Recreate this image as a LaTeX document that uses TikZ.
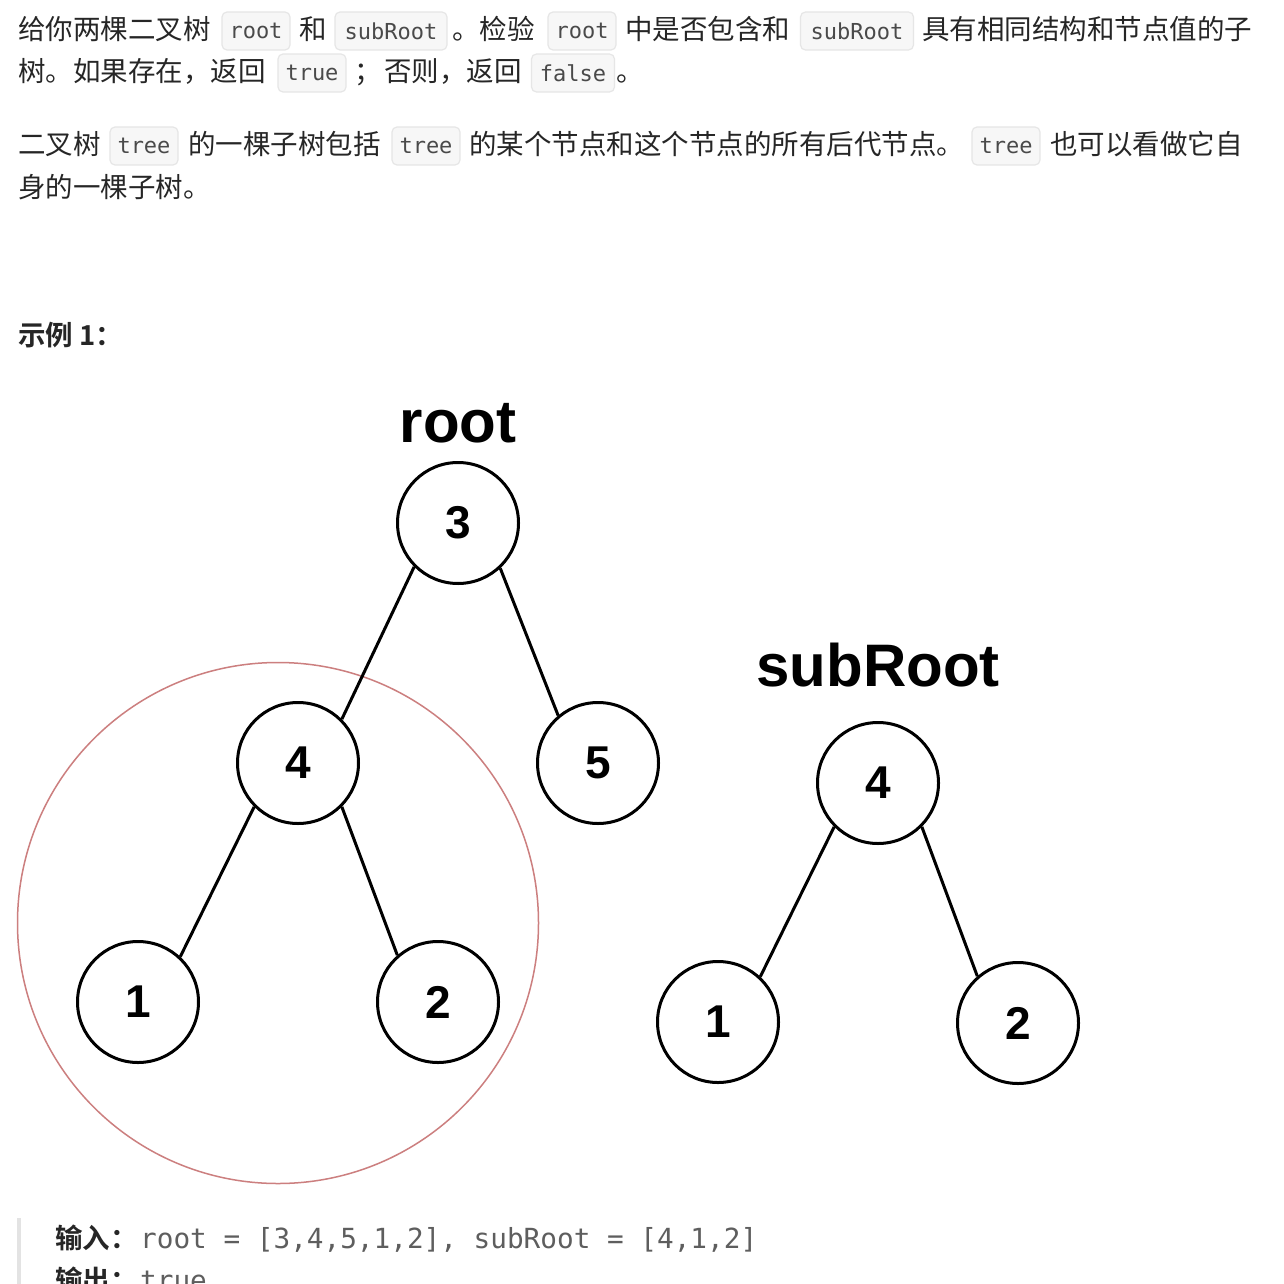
\documentclass[tikz,border=0pt]{standalone}
\usepackage{fontspec}
\setmainfont{Liberation Sans}
\newfontfamily\cjk{Noto Sans CJK SC}
\newfontfamily\cjkb{Noto Sans CJK SC Bold}
\newfontfamily\codefont{DejaVu Sans Mono}
\newfontfamily\figfont{Liberation Sans}
\definecolor{txtc}{HTML}{262626}
\definecolor{codec}{HTML}{4A4A4A}
\definecolor{codebg}{HTML}{F7F7F7}
\definecolor{codebd}{HTML}{E6E6E6}
\definecolor{hlred}{HTML}{CC7F7F}
\definecolor{barc}{HTML}{E3E3E3}
\definecolor{prec}{HTML}{5E5E5E}
\tikzset{
  txt/.style={anchor=base west, inner sep=0pt, text=txtc, font=\cjk\fontsize{27.5}{32}\selectfont},
  btxt/.style={anchor=base west, inner sep=0pt, text=txtc, font=\cjkb\fontsize{27.5}{32}\selectfont},
  codebox/.style={draw=codebd, fill=codebg, rounded corners=5pt, line width=1.2pt, text=codec,
     minimum height=38pt, inner sep=0pt, font=\codefont\fontsize{22}{26}\selectfont},
  pretxt/.style={anchor=base west, inner sep=0pt, text=prec, font=\codefont\fontsize{27.7}{32}\selectfont},
  tnode/.style={circle, draw=black, line width=3pt, minimum size=121pt, inner sep=0pt, fill=white,
     font=\figfont\bfseries\fontsize{46}{50}\selectfont},
  tlabel/.style={inner sep=0pt, font=\figfont\bfseries\fontsize{60}{64}\selectfont},
  tedge/.style={line width=3pt, draw=black},
}
\begin{document}
\begin{tikzpicture}[x=1pt,y=-1pt]
\useasboundingbox[fill=white] (0,0) rectangle (1283,1284);
\clip (0,0) rectangle (1283,1284);
% paragraph 1, line 1
\node[txt] (l1a) at (18,40) {给你两棵二叉树};
\node[codebox, minimum width=68pt] (c1) at (256,31) {root};
\node[txt] (l1b) at (299,40) {和};
\node[codebox, minimum width=112pt] (c2) at (391,31) {subRoot};
\node[txt] (l1c) at (452,40) {。检验};
\node[codebox, minimum width=68pt] (c3) at (582,31) {root};
\node[txt] (l1d) at (625,40) {中是否包含和};
\node[codebox, minimum width=113pt] (c4) at (857,31) {subRoot};
\node[txt] (l1e) at (922,40) {具有相同结构和节点值的子};
% paragraph 1, line 2
\node[txt] (l2a) at (18,82) {树。如果存在，返回};
\node[codebox, minimum width=68pt] (c5) at (312,73) {true};
\node[txt] (l2b) at (354,82) {；};
\node[txt] (l2c) at (384,82) {否则，返回};
\node[codebox, minimum width=83pt] (c6) at (573,73) {false};
\node[txt] (l2d) at (616,82) {。};
% paragraph 2
\node[txt] (p2a) at (18,155) {二叉树};
\node[codebox, minimum width=68pt] (c7) at (144,146) {tree};
\node[txt] (p2b) at (188,155) {的一棵子树包括};
\node[codebox, minimum width=68pt] (c8) at (426,146) {tree};
\node[txt] (p2c) at (469,155) {的某个节点和这个节点的所有后代节点。};
\node[codebox, minimum width=68pt] (c9) at (1006,146) {tree};
\node[txt] (p2d) at (1050,155) {也可以看做它自};
\node[txt] (p2e) at (18,197) {身的一棵子树。};
% example heading
\node[btxt] (ex) at (18,345) {示例 1：};
% highlight circle
\node[circle, draw=hlred, line width=1.5pt, minimum size=521pt, inner sep=0pt] (hl) at (278,923) {};
% main tree
\node[tlabel] (rootlbl) at (458,423) {root};
\node[tnode] (r3) at (458,523) {3};
\node[tnode] (r4) at (298,763) {4};
\node[tnode] (r5) at (598,763) {5};
\node[tnode] (r1) at (138,1002) {1};
\node[tnode] (r2) at (438,1002) {2};
\draw[tedge] (r3.225) -- (r4.45);
\draw[tedge] (r3.-47) -- (r5.130);
\draw[tedge] (r4.225) -- (r1.47);
\draw[tedge] (r4.-45) -- (r2.131);
% sub tree
\node[tlabel] (sublbl) at (878,665) {subRoot};
\node[tnode] (s4) at (878,783) {4};
\node[tnode] (s1) at (718,1022) {1};
\node[tnode] (s2) at (1018,1023) {2};
\draw[tedge] (s4.225) -- (s1.47);
\draw[tedge] (s4.-45) -- (s2.131);
% example block
\fill[barc] (17,1218) rectangle (21,1290);
\node[btxt] (inl) at (55,1248) {输入：};
\node[pretxt] (inv) at (140,1248) {root = [3,4,5,1,2], subRoot = [4,1,2]};
\node[btxt] (outl) at (55,1290) {输出：};
\node[pretxt] (outv) at (140,1290) {true};
\end{tikzpicture}
\end{document}
